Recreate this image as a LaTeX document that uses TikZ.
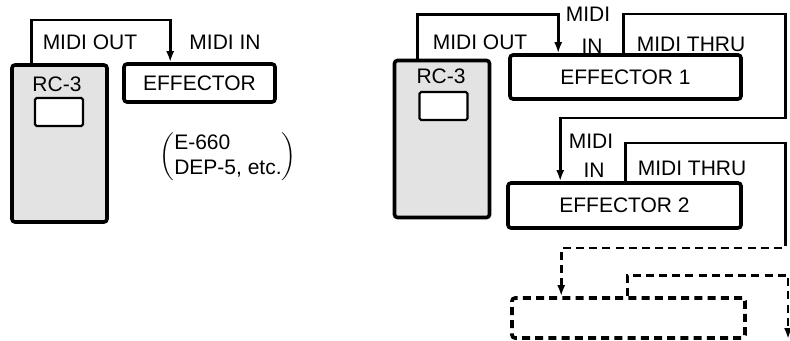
\documentclass[tikz,border=0pt]{standalone}
\usepackage{fontspec}
\setmainfont{Liberation Sans}
\usetikzlibrary{arrows.meta}

\begin{document}
\begin{tikzpicture}[x=0.5pt, y=-0.5pt,
    font=\fontsize{10.5}{12.5}\selectfont,
    unit/.style={draw, line width=1.8pt, rounded corners=1.5pt, inner sep=0pt},
    remote/.style={unit, fill=gray!22, minimum width=47.5pt, minimum height=78.5pt},
    screen/.style={draw, fill=white, line width=1.1pt, rounded corners=0.8pt, minimum width=24pt, minimum height=14pt, inner sep=0pt},
    effector/.style={unit, minimum width=116.5pt, minimum height=22pt},
    label/.style={inner sep=0pt},
    cable/.style={line width=1.3pt},
    broken/.style={dash pattern=on 4pt off 2.6pt},
    plug/.style={-{Latex[length=5.5pt,width=4pt]}}]
  \useasboundingbox (0,0) rectangle (790,341);

  % single effector
  \node[remote] (rcA) at (59.5,143.5) {};
  \node[screen] (scrA) at (59,112) {};
  \node[label] (nameA) at (57,84) {RC-3};
  \node[unit, minimum width=75.5pt, minimum height=19pt] (fxA) at (199.5,83) {EFFECTOR};
  \node[label] (outA) at (90,42) {MIDI OUT};
  \node[label] (inA) at (225,42) {MIDI IN};
  \node[label] (noteA) at (228,157) {$\left(\begin{tabular}{@{}l@{}}E-660\\DEP-5, etc.\end{tabular}\right)$};
  \draw[cable, plug] ([xshift=10.5pt]rcA.north west) -- ++(0,-43) -| ([xshift=24pt]fxA.north west);

  % chain of effectors
  \node[remote] (rcB) at (442,139) {};
  \node[screen] (scrB) at (443.5,106) {};
  \node[label] (nameB) at (441,76) {RC-3};
  \node[effector, minimum width=115.5pt] (fxB1) at (625.5,77) {EFFECTOR 1};
  \node[effector, minimum height=22.5pt] (fxB2) at (624.5,205.5) {EFFECTOR 2};
  \node[effector, broken, minimum height=20pt] (fxB3) at (628.5,318) {};
  \node[label] (outB) at (480,42) {MIDI OUT};
  \node[label] (midiB1) at (588,14) {MIDI};
  \node[label] (inB1) at (592,46) {IN};
  \node[label] (thruB1) at (691,44) {MIDI THRU};
  \node[label] (midiB2) at (591,141) {MIDI};
  \node[label] (inB2) at (594,170) {IN};
  \node[label] (thruB2) at (692,168) {MIDI THRU};
  \coordinate (nextB) at (788,339);

  \draw[cable, plug] ([xshift=12.5pt]rcB.north west) -- ++(0,-44) -| ([xshift=25pt]fxB1.north west);
  \draw[cable, plug] ([xshift=57.5pt]fxB1.north west) -- ++(0,-39) -| ++(162,104) -| ([xshift=27pt]fxB2.north west);
  \draw[cable] ([xshift=59.5pt]fxB2.north west) -- ++(0,-38) -| ++(160,95) coordinate (breakB);
  \draw[cable, broken, plug] (breakB) -- ++(0,10) -| ([xshift=25.5pt]fxB3.north west);
  \draw[cable, broken, plug] ([xshift=58.5pt]fxB3.north west) -- ++(0,-21) -| (nextB);
\end{tikzpicture}
\end{document}
